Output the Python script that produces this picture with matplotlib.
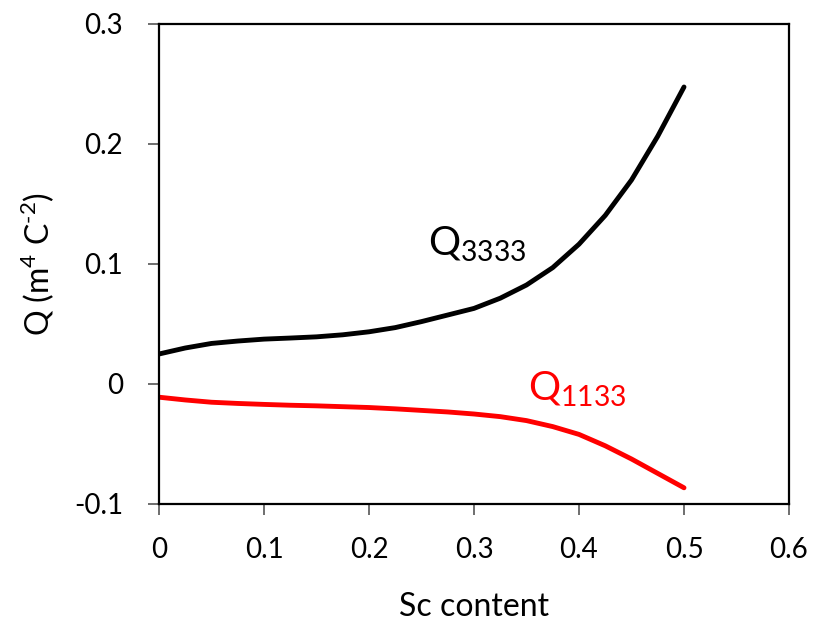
import matplotlib.pyplot as plt
import numpy as np

plt.rcParams['font.family'] = ['Lato', 'DejaVu Sans']
plt.rcParams['mathtext.fontset'] = 'custom'
plt.rcParams['mathtext.rm'] = 'Lato'

sc = [0, 0.025, 0.05, 0.075, 0.1, 0.125, 0.15, 0.175, 0.2, 0.225, 0.25,
      0.275, 0.3, 0.325, 0.35, 0.375, 0.4, 0.425, 0.45, 0.475, 0.5]
q3333 = [0.025, 0.030, 0.0338, 0.0358, 0.0374, 0.0383, 0.0393, 0.041, 0.0435, 0.047, 0.052,
         0.0575, 0.063, 0.0715, 0.0825, 0.097, 0.1165, 0.1405, 0.170, 0.2065, 0.2475]
q1133 = [-0.011, -0.0133, -0.0152, -0.0162, -0.017, -0.0177, -0.0182, -0.0189, -0.0196, -0.0207, -0.022,
         -0.0233, -0.025, -0.0272, -0.0305, -0.0355, -0.042, -0.0515, -0.0625, -0.0745, -0.0865]

xticks = [0, 0.1, 0.2, 0.3, 0.4, 0.5, 0.6]
xtick_labels = ['0', '0.1', '0.2', '0.3', '0.4', '0.5', '0.6']
yticks = [-0.1, 0, 0.1, 0.2, 0.3]
ytick_labels = ['-0.1', '0', '0.1', '0.2', '0.3']

fig = plt.figure(figsize=(8.19, 6.32), dpi=100)
ax = fig.add_axes([159 / 819, 128 / 632, 630 / 819, 480 / 632])

ax.plot(sc, q3333, color='black', lw=3.5, solid_capstyle='round', solid_joinstyle='round')
ax.plot(sc, q1133, color='#ff0000', lw=3.5, solid_capstyle='round', solid_joinstyle='round')

ax.text(0.256, 0.107, r'Q$_{\mathregular{3333}}$', fontsize=29, color='black')
ax.text(0.351, -0.014, r'Q$_{\mathregular{1133}}$', fontsize=29, color='#ff0000')

ax.set_xlim(0, 0.6)
ax.set_ylim(-0.1, 0.3)
ax.set_xticks(xticks)
ax.set_xticklabels(xtick_labels)
ax.set_yticks(yticks)
ax.set_yticklabels(ytick_labels)
ax.tick_params(axis='both', direction='out', length=8, width=1.2, color='#555555',
               labelsize=20, pad=16)
ax.tick_params(axis='y', pad=18)
for s in ax.spines.values():
    s.set_linewidth(1.6)

ax.set_xlabel('Sc content', fontsize=23, labelpad=21)
ax.set_ylabel('Q (m$^{\\mathregular{4}}$ C$^{\\mathregular{\u2010}\\mathregular{2}}$)', fontsize=23, labelpad=12)

fig.savefig('out.png', dpi=100)
